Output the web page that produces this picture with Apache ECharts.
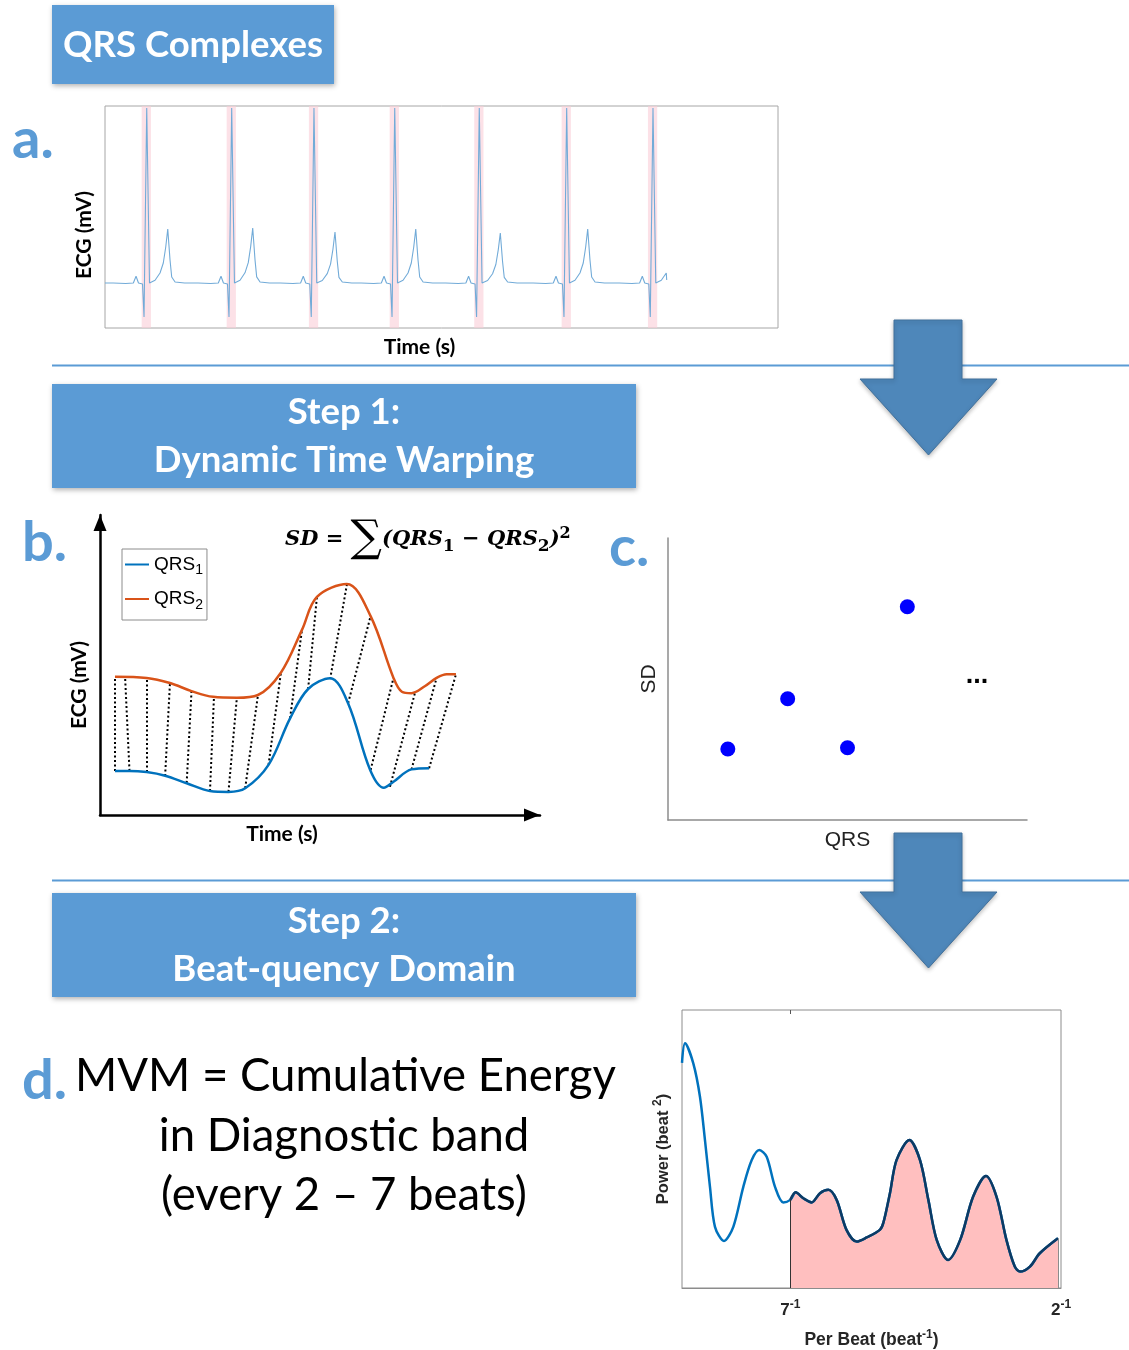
<!DOCTYPE html>
<html><head><meta charset="utf-8">
<script src="https://cdn.jsdelivr.net/npm/echarts@6/dist/echarts.min.js"></script>
<style>html,body{margin:0;padding:0;background:#fff}#c{width:1129px;height:1350px}</style>
</head><body><div id="c"></div><script>
// ---------- Panel a: ECG strip ----------
const ecgRPeakTimes = [0.496, 1.506, 2.484, 3.444, 4.449, 5.488, 6.514];
const ecgTWaveAmps  = [0.54, 0.55, 0.51, 0.54, 0.50, 0.54, 0.54];
const ecgTraceEnd = 6.677, ecgTraceEndMv = 0.03;
const beatTemplateDt = [-0.40, -0.25, -0.159, -0.127, -0.098, -0.05, -0.032, 0, 0.033, 0.051, 0.099, 0.158, 0.197, 0.226, 0.25, 0.277, 0.297, 0.337, 0.45];
const beatTemplateMv = [0, -0.005, 0, 0.067, 0, -0.01, -0.34, 1.75, 0.0, -0.015, 0.027, 0.10, 0.20, 0.36, 0.54, 0.23, 0.06, 0.01, 0];

// ---------- Panel b: two QRS complexes + DTW warping ----------
const qrs1Time = [0.034, 0.067, 0.106, 0.148, 0.197, 0.25, 0.292, 0.33, 0.383, 0.432, 0.473, 0.523, 0.564, 0.614, 0.645, 0.667, 0.708, 0.748];
const qrs1Amp  = [0.147, 0.147, 0.143, 0.131, 0.106, 0.08, 0.077, 0.089, 0.167, 0.322, 0.42, 0.456, 0.372, 0.15, 0.091, 0.111, 0.152, 0.156];
const qrs2Time = [0.034, 0.106, 0.159, 0.208, 0.257, 0.311, 0.359, 0.411, 0.459, 0.493, 0.561, 0.615, 0.667, 0.686, 0.708, 0.739, 0.765, 0.788, 0.809];
const qrs2Amp  = [0.461, 0.457, 0.44, 0.413, 0.394, 0.391, 0.4, 0.474, 0.617, 0.727, 0.77, 0.663, 0.457, 0.411, 0.406, 0.43, 0.457, 0.469, 0.469];
const warpT1 = [0.034, 0.067, 0.106, 0.148, 0.197, 0.25, 0.292, 0.33, 0.383, 0.432, 0.473, 0.523, 0.564, 0.615, 0.659, 0.708, 0.748];
const warpV1 = [0.147, 0.147, 0.143, 0.13, 0.107, 0.08, 0.077, 0.09, 0.167, 0.323, 0.42, 0.453, 0.373, 0.15, 0.094, 0.152, 0.156];
const warpT2 = [0.034, 0.057, 0.106, 0.159, 0.208, 0.259, 0.311, 0.359, 0.411, 0.459, 0.493, 0.561, 0.615, 0.667, 0.716, 0.765, 0.809];
const warpV2 = [0.46, 0.46, 0.457, 0.44, 0.413, 0.393, 0.39, 0.40, 0.473, 0.617, 0.727, 0.767, 0.663, 0.457, 0.408, 0.457, 0.469];

// ---------- Panel c: SD vs QRS ----------
const sdQrsIndex = [1, 2, 3, 4];
const sdValues   = [1.26, 2.15, 1.28, 3.78];

// ---------- Panel d: beat-quency spectrum ----------
const beatFreq = [0, 0.004, 0.0149, 0.0237, 0.0303, 0.0369, 0.0435, 0.0554, 0.0677, 0.0809, 0.092, 0.102, 0.1117, 0.1227, 0.1336, 0.142857, 0.15, 0.16, 0.171, 0.182, 0.193, 0.204, 0.217, 0.2305, 0.2437, 0.261, 0.2656, 0.2744, 0.283, 0.30, 0.314, 0.325, 0.336, 0.351, 0.367, 0.384, 0.401, 0.415, 0.428, 0.439, 0.446, 0.459, 0.472, 0.496];
const powerVals = [0.81, 0.88, 0.808, 0.688, 0.532, 0.364, 0.22, 0.169, 0.22, 0.364, 0.46, 0.496, 0.472, 0.364, 0.308, 0.317, 0.344, 0.323, 0.308, 0.341, 0.353, 0.317, 0.209, 0.167, 0.182, 0.209, 0.234, 0.342, 0.46, 0.532, 0.46, 0.317, 0.173, 0.101, 0.173, 0.328, 0.403, 0.328, 0.173, 0.077, 0.059, 0.077, 0.125, 0.179];
const bandStart = 1 / 7, bandEnd = 0.496;
const dTickLabels = {low: '7', high: '2'};

// ---------- build series data ----------
const ecgPoints = [[0, 0]];
ecgRPeakTimes.forEach((r, i) => {
  const k = ecgTWaveAmps[i] / 0.54;
  beatTemplateDt.forEach((dt, j) => {
    const t = r + dt;
    if (t <= 0 || t > ecgTraceEnd) return;
    let v = beatTemplateMv[j];
    if (dt > 0.09 && dt < 0.33) v *= k;
    ecgPoints.push([t, v]);
  });
});
ecgPoints.push([ecgTraceEnd, ecgTraceEndMv]);
const qrs1 = qrs1Time.map((t, i) => [t, qrs1Amp[i]]);
const qrs2 = qrs2Time.map((t, i) => [t, qrs2Amp[i]]);
const warpLines = warpT1.map((t, i) => ({coords: [[t, warpV1[i]], [warpT2[i], warpV2[i]]]}));
const sdPts = sdQrsIndex.map((x, i) => [x, sdValues[i]]);
const spectrum = beatFreq.map((f, i) => [f, powerVals[i]]);
const band = spectrum.filter(p => p[0] >= bandStart - 1e-6);
const bandStartPow = band[0][1];
const bandEndPow = powerVals[powerVals.length - 1];

const BLUE = '#5b9bd5', ARROW = '#4e87ba';
const CAL = 'Lato, "Open Sans", sans-serif';
const ARIAL = '"Liberation Sans", Arial, sans-serif';

function hidden(extra) {
  return Object.assign({axisLine: {show: false}, axisTick: {show: false}, axisLabel: {show: false}, splitLine: {show: false}}, extra);
}
const nameBold = (pad) => ({fontFamily: CAL, fontWeight: 'bold', fontSize: 21, color: '#000', padding: pad});

const chart = echarts.init(document.getElementById('c'), null, {renderer: 'canvas'});
const downArrow = (top, neck, tip) => ({
  type: 'polygon', z: 50,
  shape: {points: [[894, top], [962, top], [962, neck], [997, neck], [928.5, tip], [860, neck], [894, neck]]},
  style: {fill: ARROW, stroke: '#41719c', lineWidth: 1, shadowBlur: 4, shadowColor: 'rgba(0,0,0,0.25)', shadowOffsetY: 2}
});
const headerBox = (x, y, w, h) => ({
  type: 'rect', z: 10, shape: {x: x, y: y, width: w, height: h},
  style: {fill: BLUE, shadowBlur: 5, shadowOffsetX: 1, shadowOffsetY: 2, shadowColor: 'rgba(0,0,0,0.3)'}
});
const txt = (x, y, text, font, extra) => ({
  type: 'text', z: 60,
  style: Object.assign({x: x, y: y, text: text, font: font, fill: '#fff', align: 'center', verticalAlign: 'middle'}, extra || {})
});
const HEAD = 'bold 36.5px ' + CAL;
const BODY = '45.5px ' + CAL;

chart.setOption({
  backgroundColor: '#fff',
  animation: false,
  grid: [
    {left: 105, top: 106, width: 673, height: 222, show: true, borderColor: '#a6a6a6', borderWidth: 1, backgroundColor: '#fff'},
    {left: 100, top: 515, width: 440, height: 300},
    {left: 668, top: 538, width: 359, height: 282},
    {left: 682, top: 1010, width: 379, height: 278, show: true, borderColor: '#8c8c8c', borderWidth: 1}
  ],
  legend: {
    data: ['QRS1', 'QRS2'], orient: 'vertical', left: 122, top: 549,
    borderColor: '#8c8c8c', borderWidth: 1, padding: [6, 4, 8, 3], itemGap: 12,
    itemWidth: 24, itemHeight: 2, icon: 'rect', backgroundColor: '#fff',
    formatter: n => 'QRS{s|' + n.slice(-1) + '}',
    textStyle: {fontFamily: ARIAL, fontSize: 19, color: '#000',
      rich: {s: {fontFamily: ARIAL, fontSize: 14, color: '#000', padding: [12, 0, 0, 0]}}}
  },
  xAxis: [
    hidden({gridIndex: 0, type: 'value', min: 0, max: 8, name: 'Time (s)', nameLocation: 'middle', nameGap: 9, nameTextStyle: nameBold([0, 44, 0, 0])}),
    {gridIndex: 1, type: 'value', min: 0, max: 1, name: 'Time (s)', nameLocation: 'middle', nameGap: 9, nameTextStyle: nameBold([0, 76, 0, 0]),
      axisLine: {show: true, symbol: ['none', 'triangle'], symbolSize: [13, 16], symbolOffset: [0, -8], lineStyle: {color: '#000', width: 2.5}},
      axisTick: {show: false}, axisLabel: {show: false}, splitLine: {show: false}},
    {gridIndex: 2, type: 'value', min: 0, max: 6, name: 'QRS', nameLocation: 'middle', nameGap: 10,
      nameTextStyle: {fontFamily: ARIAL, fontSize: 21, color: '#222'},
      axisLine: {show: true, lineStyle: {color: '#8c8c8c', width: 1.5}}, axisTick: {show: false}, axisLabel: {show: false}, splitLine: {show: false}},
    {gridIndex: 3, type: 'value', min: 0, max: 0.5, name: 'Per Beat (beat{s|-1})', nameLocation: 'middle', nameGap: 41,
      nameTextStyle: {fontFamily: ARIAL, fontWeight: 'bold', fontSize: 17.5, color: '#262626',
        rich: {s: {fontFamily: ARIAL, fontWeight: 'bold', fontSize: 12, color: '#262626', padding: [0, 0, 10, 0]}}},
      axisLine: {show: true, lineStyle: {color: '#8c8c8c'}},
      axisTick: {show: true, inside: true, length: 4, customValues: [bandStart], lineStyle: {color: '#555'}},
      axisLabel: {show: true, customValues: [bandStart, 0.5], margin: 11,
        formatter: v => (v < 0.3 ? dTickLabels.low : dTickLabels.high) + '{s|-1}',
        fontFamily: ARIAL, fontWeight: 'bold', fontSize: 17, color: '#262626',
        rich: {s: {fontFamily: ARIAL, fontWeight: 'bold', fontSize: 12, color: '#262626', padding: [0, 0, 10, 0]}}},
      splitLine: {show: false}},
    {gridIndex: 3, type: 'value', position: 'top', min: 0, max: 0.5,
      axisLine: {show: false}, axisTick: {show: true, inside: true, length: 4, customValues: [bandStart], lineStyle: {color: '#555'}},
      axisLabel: {show: false}, splitLine: {show: false}}
  ],
  yAxis: [
    hidden({gridIndex: 0, type: 'value', min: -0.45, max: 1.77, name: 'ECG (mV)', nameLocation: 'middle', nameGap: 10, nameTextStyle: nameBold([0, 36, 0, 0])}),
    {gridIndex: 1, type: 'value', min: 0, max: 1, name: 'ECG (mV)', nameLocation: 'middle', nameGap: 10, nameTextStyle: nameBold([0, 40, 0, 0]),
      axisLine: {show: true, symbol: ['none', 'triangle'], symbolSize: [13, 16], symbolOffset: [0, -8], lineStyle: {color: '#000', width: 2.5}},
      axisTick: {show: false}, axisLabel: {show: false}, splitLine: {show: false}},
    {gridIndex: 2, type: 'value', min: 0, max: 5, name: 'SD', nameLocation: 'middle', nameGap: 8,
      nameTextStyle: {fontFamily: ARIAL, fontSize: 21, color: '#222'},
      axisLine: {show: true, lineStyle: {color: '#8c8c8c', width: 1.5}}, axisTick: {show: false}, axisLabel: {show: false}, splitLine: {show: false}},
    {gridIndex: 3, type: 'value', min: 0, max: 1, name: 'Power (beat {s|2})', nameLocation: 'middle', nameGap: 8,
      nameTextStyle: {fontFamily: ARIAL, fontWeight: 'bold', fontSize: 16.5, color: '#262626',
        rich: {s: {fontFamily: ARIAL, fontWeight: 'bold', fontSize: 12, color: '#262626', padding: [0, 0, 10, 0]}}},
      axisLine: {show: false}, axisTick: {show: false}, axisLabel: {show: false}, splitLine: {show: false}}
  ],
  series: [
    {type: 'line', name: 'ECG', xAxisIndex: 0, yAxisIndex: 0, data: ecgPoints, symbol: 'none',
      lineStyle: {color: '#72abd8', width: 1.1},
      markArea: {silent: true, itemStyle: {color: 'rgba(250,205,215,0.6)'},
        data: ecgRPeakTimes.map(r => [{xAxis: r - 0.06}, {xAxis: r + 0.05}])}},
    {type: 'lines', coordinateSystem: 'cartesian2d', xAxisIndex: 1, yAxisIndex: 1, z: 1, data: warpLines,
      lineStyle: {color: '#000', width: 2, type: [2, 2.5], opacity: 1}},
    {type: 'line', name: 'QRS1', xAxisIndex: 1, yAxisIndex: 1, data: qrs1, smooth: 0.35, symbol: 'none', z: 3,
      itemStyle: {color: '#0072bd'}, lineStyle: {color: '#0072bd', width: 2.5}},
    {type: 'line', name: 'QRS2', xAxisIndex: 1, yAxisIndex: 1, data: qrs2, smooth: 0.35, symbol: 'none', z: 3,
      itemStyle: {color: '#d95319'}, lineStyle: {color: '#d95319', width: 2.5}},
    {type: 'scatter', name: 'SD', xAxisIndex: 2, yAxisIndex: 2, data: sdPts, symbolSize: 15,
      itemStyle: {color: '#0000ff', opacity: 1}},
    {type: 'line', name: 'Spectrum', xAxisIndex: 3, yAxisIndex: 3, data: spectrum, smooth: 0.3, symbol: 'none',
      lineStyle: {color: '#0072bd', width: 2.5}},
    {type: 'line', name: 'Band', xAxisIndex: 3, yAxisIndex: 3, data: band, smooth: 0.3, symbol: 'none', z: 3,
      lineStyle: {color: '#0d3a63', width: 2.5}, areaStyle: {color: '#ffbfbf', opacity: 1},
      markLine: {silent: true, symbol: 'none', label: {show: false},
        data: [
          [{coord: [bandStart, 0], lineStyle: {color: '#333', width: 1, type: 'solid'}}, {coord: [bandStart, bandStartPow]}],
          [{coord: [bandEnd, 0], lineStyle: {color: '#8c8c8c', width: 1, type: 'solid'}}, {coord: [bandEnd, bandEndPow]}]
        ]}}
  ],
  graphic: [
    {type: 'line', z: 5, shape: {x1: 52, y1: 365.5, x2: 1129, y2: 365.5}, style: {stroke: BLUE, lineWidth: 2}},
    {type: 'line', z: 5, shape: {x1: 52, y1: 880.5, x2: 1129, y2: 880.5}, style: {stroke: BLUE, lineWidth: 2}},
    downArrow(320, 379, 455),
    downArrow(833, 892, 968),
    headerBox(52, 5, 282, 79),
    headerBox(52, 384, 584, 104),
    headerBox(52, 893, 584, 104),
    txt(193, 45, 'QRS Complexes', HEAD),
    txt(344, 412, 'Step 1:', HEAD),
    txt(344, 460, 'Dynamic Time Warping', HEAD),
    txt(344, 921, 'Step 2:', HEAD),
    txt(344, 969, 'Beat-quency Domain', HEAD),
    txt(12, 140, 'a.', 'bold 56px ' + CAL, {fill: BLUE, align: 'left'}),
    txt(22, 543, 'b.', 'bold 56px ' + CAL, {fill: BLUE, align: 'left'}),
    txt(609, 548, 'c.', 'bold 56px ' + CAL, {fill: BLUE, align: 'left'}),
    txt(22, 1081, 'd.', 'bold 56px ' + CAL, {fill: BLUE, align: 'left'}),
    txt(75, 1076, 'MVM = Cumulative Energy', BODY, {fill: '#000', align: 'left'}),
    txt(344, 1136, 'in Diagnostic band', BODY, {fill: '#000'}),
    txt(344, 1195, '(every 2 \u2013 7 beats)', BODY, {fill: '#000'}),
    txt(977, 676, '...', 'bold 27px ' + ARIAL, {fill: '#000'}),
    {type: 'text', z: 60, style: {x: 285, y: 540, align: 'left', verticalAlign: 'middle', fill: '#000',
      text: '{a|SD = }{s|\u2211}{a|(QRS}{b|1}{a| \u2212 QRS}{b|2}{a|)}{c|2}',
      rich: {
        a: {font: 'italic bold 21px "DejaVu Serif", serif', fill: '#000'},
        s: {font: '44px "DejaVu Serif", serif', fill: '#000'},
        b: {font: 'bold 17px "DejaVu Serif", serif', fill: '#000', padding: [13, 0, 0, 0]},
        c: {font: 'bold 16px "DejaVu Serif", serif', fill: '#000', padding: [0, 0, 13, 0]}
      }}}
  ]
});
</script></body></html>
